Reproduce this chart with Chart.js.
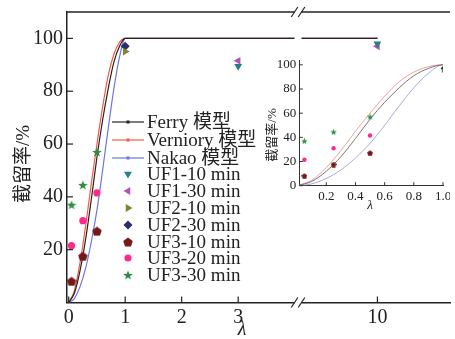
<!DOCTYPE html>
<html>
<head>
<meta charset="utf-8">
<script src="https://cdn.jsdelivr.net/npm/chart.js@4.4.1/dist/chart.umd.min.js"></script>
<style>
  body { margin: 0; background: #fff; }
  #wrap { position: relative; width: 455px; height: 339px; }
  #inset { position: absolute; left: 250px; top: 50px; }
</style>
</head>
<body>
<div id="wrap">
  <canvas id="mainChart" width="455" height="339"></canvas>
  <canvas id="inset" width="200" height="170"></canvas>
</div>
<script>
// model curves (lambda vs retention %)
const lambdaCurve = [0, 0.1, 0.2, 0.3, 0.4, 0.5, 0.6, 0.7, 0.8, 0.9, 1.0, 10];
const ferry    = [0, 3.5, 12, 24, 39, 55, 69, 81, 91, 97, 100, 100];
const verniory = [0, 4.5, 15, 29, 45, 60, 74, 86, 94, 98.5, 100, 100];
const nakao    = [0, 1.5, 6, 13, 23, 35, 50, 66, 81, 93, 100, 100];

// measured retention
const lambdaUF1 = [3, 10];
const uf1_10 = [89.5, 98];
const uf1_30 = [91.5, 97];
const lambdaUF2 = [1];
const uf2_10 = [95];
const uf2_30 = [97];
const lambdaUF3 = [0.05, 0.25, 0.5];
const uf3_10 = [8, 17.5, 27];
const uf3_20 = [21.5, 31, 41.5];
const uf3_30 = [37, 44.5, 57];

// tick labels
const xTicks = [0, 1, 2, 3, 10];
const yTicks = [20, 40, 60, 80, 100];
const insetXTicks = [0.2, 0.4, 0.6, 0.8, 1.0];
const insetYTicks = [0, 20, 40, 60, 80, 100];

const SERIF = '"Liberation Serif", "Noto Sans CJK SC", serif';
const INK = '#222';

// broken x axis: everything past the break is pulled left
const BREAK_AT = 4.06;
const SHIFT = 4.535;
function tx(l) { return l > BREAK_AT ? l - SHIFT : l; }

function pts(xs, ys, f) {
    return xs.map((x, i) => ({ x: f ? f(x) : x, y: ys[i] }));
}

// shapes chart.js does not have
function pentagon(size, color) {
    const c = document.createElement('canvas');
    c.width = c.height = size;
    const g = c.getContext('2d');
    const r = size / 2;
    g.fillStyle = color;
    g.beginPath();
    for (let i = 0; i < 5; i++) {
        const a = -Math.PI / 2 + i * 2 * Math.PI / 5;
        g.lineTo(r + r * Math.cos(a), r * 1.1 + r * Math.sin(a));
    }
    g.closePath();
    g.fill();
    return c;
}
function star(size, color) {
    const c = document.createElement('canvas');
    c.width = c.height = size;
    const g = c.getContext('2d');
    const r = size / 2;
    g.fillStyle = color;
    g.beginPath();
    for (let i = 0; i < 10; i++) {
        const a = -Math.PI / 2 + i * Math.PI / 5;
        const rr = i % 2 ? r * 0.42 : r;
        g.lineTo(r + rr * Math.cos(a), r * 1.1 + rr * Math.sin(a));
    }
    g.closePath();
    g.fill();
    return c;
}

const colors = {
    ferry: '#222222', verniory: '#f25a4a', nakao: '#6a78e0',
    uf1_10: '#26807f', uf1_30: '#b155b5', uf2_10: '#84842c', uf2_30: '#2c2c6c',
    uf3_10: '#761818', uf3_20: '#ff2b8c', uf3_30: '#2f8c42'
};

function curve(label, data, color, f, width) {
    return {
        label: label, data: pts(lambdaCurve, data, f),
        borderColor: color, backgroundColor: color, borderWidth: width,
        pointRadius: 0, cubicInterpolationMode: 'monotone', order: 1, isCurve: true
    };
}
function marks(label, xs, ys, f, color, style, radius, rotation) {
    return {
        label: label, data: pts(xs, ys, f), showLine: false,
        borderColor: color, backgroundColor: color, borderWidth: 0,
        pointStyle: style, pointRadius: radius, pointRotation: rotation || 0, order: 0
    };
}

// main chart
const mainSets = [
    curve('Ferry 模型', ferry, colors.ferry, tx, 1.2),
    curve('Verniory 模型', verniory, colors.verniory, tx, 1.2),
    curve('Nakao 模型', nakao, colors.nakao, tx, 1.2),
    marks('UF1-10 min', lambdaUF1, uf1_10, tx, colors.uf1_10, 'triangle', 4.5, 180),
    marks('UF1-30 min', lambdaUF1, uf1_30, tx, colors.uf1_30, 'triangle', 4.5, 270),
    marks('UF2-10 min', lambdaUF2, uf2_10, tx, colors.uf2_10, 'triangle', 4.5, 90),
    marks('UF2-30 min', lambdaUF2, uf2_30, tx, colors.uf2_30, 'rectRot', 4.5),
    marks('UF3-10 min', lambdaUF3, uf3_10, tx, colors.uf3_10, pentagon(10, colors.uf3_10), 5),
    marks('UF3-20 min', lambdaUF3, uf3_20, tx, colors.uf3_20, 'circle', 3.6),
    marks('UF3-30 min', lambdaUF3, uf3_30, tx, colors.uf3_30, star(10, colors.uf3_30), 5)
];

const legendRows = [122, 140, 158, 174, 191, 208, 225, 242, 258, 275];

const mainExtras = {
    id: 'mainExtras',
    afterDatasetsDraw(chart) {
        const ctx = chart.ctx;
        const a = chart.chartArea;
        const xs = chart.scales.x, ys = chart.scales.y;
        ctx.save();
        ctx.strokeStyle = INK;
        ctx.lineWidth = 1.5;
        // top frame line
        ctx.beginPath();
        ctx.moveTo(a.left, a.top);
        ctx.lineTo(a.right, a.top);
        ctx.stroke();
        // inward ticks
        ctx.lineWidth = 1.2;
        xTicks.forEach(v => {
            const px = xs.getPixelForValue(tx(v));
            ctx.beginPath();
            ctx.moveTo(px, a.bottom);
            ctx.lineTo(px, a.bottom - 6);
            ctx.stroke();
        });
        yTicks.forEach(v => {
            const py = ys.getPixelForValue(v);
            ctx.beginPath();
            ctx.moveTo(a.left, py);
            ctx.lineTo(a.left + 6, py);
            ctx.stroke();
        });
        // break in the axis
        const bx = xs.getPixelForValue(BREAK_AT);
        ctx.fillStyle = '#fff';
        ctx.fillRect(bx - 3.5, 0, 7, a.bottom + 3);
        ctx.lineWidth = 1.2;
        [a.top, a.bottom].forEach(y => {
            [-3.5, 3.5].forEach(dx => {
                ctx.beginPath();
                ctx.moveTo(bx + dx - 3.3, y + 5);
                ctx.lineTo(bx + dx + 3.3, y - 5);
                ctx.stroke();
            });
        });
        ctx.restore();
    },
    afterDraw(chart) {
        const ctx = chart.ctx;
        ctx.save();
        ctx.fillStyle = INK;
        ctx.font = '19px ' + SERIF;
        ctx.textBaseline = 'middle';
        chart.data.datasets.forEach((ds, i) => {
            const y = legendRows[i];
            if (ds.isCurve) {
                ctx.strokeStyle = ds.borderColor;
                ctx.lineWidth = 1.2;
                ctx.beginPath();
                ctx.moveTo(112, y);
                ctx.lineTo(144, y);
                ctx.stroke();
                ctx.fillStyle = ds.borderColor;
                ctx.fillRect(126.5, y - 1.5, 3, 3);
            } else {
                ctx.fillStyle = ds.backgroundColor;
                Chart.helpers.drawPoint(ctx, {
                    pointStyle: ds.pointStyle, radius: ds.pointRadius,
                    rotation: ds.pointRotation, borderWidth: 0
                }, 128, y);
            }
            ctx.fillStyle = INK;
            ctx.fillText(ds.label, 147, y + 1);
        });
        // axis titles
        ctx.textAlign = 'center';
        ctx.save();
        ctx.translate(24, 164);
        ctx.rotate(-Math.PI / 2);
        ctx.fillText('截留率/%', 0, 0);
        ctx.restore();
        ctx.font = 'italic 20px ' + SERIF;
        ctx.fillText('λ', 242, 330);
        ctx.restore();
    }
};

new Chart(document.getElementById('mainChart'), {
    type: 'line',
    data: { datasets: mainSets },
    options: {
        responsive: false,
        animation: false,
        layout: { padding: { top: 12, left: 0, right: 0, bottom: 0 } },
        plugins: { legend: { display: false }, tooltip: { enabled: false } },
        scales: {
            x: {
                type: 'linear', min: -0.03, max: 6.75,
                afterFit(s) { s.height = 36.5; s.paddingLeft = 0; s.paddingRight = 0; },
                afterBuildTicks(s) { s.ticks = xTicks.map(v => ({ value: tx(v) })); },
                ticks: {
                    callback: (v, i) => String(xTicks[i]),
                    font: { family: SERIF, size: 20 }, color: INK,
                    padding: 3, maxRotation: 0, autoSkip: false
                },
                grid: { display: false, drawTicks: false },
                border: { display: true, color: INK, width: 1.5 }
            },
            y: {
                min: 0, max: 110,
                afterFit(s) { s.width = 67; s.paddingTop = 0; s.paddingBottom = 0; },
                afterBuildTicks(s) { s.ticks = yTicks.map(v => ({ value: v })); },
                ticks: {
                    font: { family: SERIF, size: 20 }, color: INK, padding: 4
                },
                grid: { display: false, drawTicks: false },
                border: { display: true, color: INK, width: 1.5 }
            }
        }
    },
    plugins: [mainExtras]
});

// inset: 0 - 1 range
const insetSets = [
    curve('Ferry 模型', ferry, '#555555', null, 0.8),
    curve('Verniory 模型', verniory, '#f5867a', null, 0.8),
    curve('Nakao 模型', nakao, '#8c96e6', null, 0.8),
    marks('UF2-10 min', lambdaUF2, uf2_10, null, colors.uf2_10, 'triangle', 2.4, 90),
    marks('UF2-30 min', lambdaUF2, uf2_30, null, colors.uf2_30, 'rectRot', 2.4),
    marks('UF3-10 min', lambdaUF3, uf3_10, null, colors.uf3_10, pentagon(6, colors.uf3_10), 3),
    marks('UF3-20 min', lambdaUF3, uf3_20, null, colors.uf3_20, 'circle', 2.2),
    marks('UF3-30 min', lambdaUF3, uf3_30, null, colors.uf3_30, star(7, colors.uf3_30), 3.5)
];

const insetExtras = {
    id: 'insetExtras',
    afterDatasetsDraw(chart) {
        const ctx = chart.ctx;
        const a = chart.chartArea;
        const xs = chart.scales.x, ys = chart.scales.y;
        ctx.save();
        ctx.strokeStyle = '#333';
        ctx.lineWidth = 1;
        insetXTicks.forEach(v => {
            const px = xs.getPixelForValue(v);
            ctx.beginPath();
            ctx.moveTo(px, a.bottom);
            ctx.lineTo(px, a.bottom - 3.5);
            ctx.stroke();
        });
        insetYTicks.forEach(v => {
            const py = ys.getPixelForValue(v);
            ctx.beginPath();
            ctx.moveTo(a.left, py);
            ctx.lineTo(a.left + 3.5, py);
            ctx.stroke();
        });
        ctx.fillStyle = INK;
        ctx.textAlign = 'center';
        ctx.textBaseline = 'middle';
        ctx.font = '13px ' + SERIF;
        ctx.save();
        ctx.translate(23, 85);
        ctx.rotate(-Math.PI / 2);
        ctx.fillText('截留率/%', 0, 0);
        ctx.restore();
        ctx.font = 'italic 13px ' + SERIF;
        ctx.fillText('λ', 120, 156);
        ctx.restore();
    }
};

new Chart(document.getElementById('inset'), {
    type: 'line',
    data: { datasets: insetSets },
    options: {
        responsive: false,
        animation: false,
        layout: { padding: { top: 10, left: 0, right: 7, bottom: 0 } },
        plugins: { legend: { display: false }, tooltip: { enabled: false } },
        scales: {
            x: {
                type: 'linear', min: 0.015, max: 1.0,
                afterFit(s) { s.height = 34.3; s.paddingLeft = 0; s.paddingRight = 0; },
                afterBuildTicks(s) { s.ticks = insetXTicks.map(v => ({ value: v })); },
                ticks: {
                    callback: v => v.toFixed(1),
                    font: { family: SERIF, size: 13 }, color: INK,
                    padding: 3, maxRotation: 0, autoSkip: false
                },
                grid: { display: false, drawTicks: false },
                border: { display: true, color: '#333', width: 1 }
            },
            y: {
                min: 0, max: 104,
                afterFit(s) { s.width = 49.3; s.paddingTop = 0; s.paddingBottom = 0; },
                afterBuildTicks(s) { s.ticks = insetYTicks.map(v => ({ value: v })); },
                ticks: {
                    font: { family: SERIF, size: 13 }, color: INK, padding: 3
                },
                grid: { display: false, drawTicks: false },
                border: { display: true, color: '#333', width: 1 }
            }
        }
    },
    plugins: [insetExtras]
});
</script>
</body>
</html>
